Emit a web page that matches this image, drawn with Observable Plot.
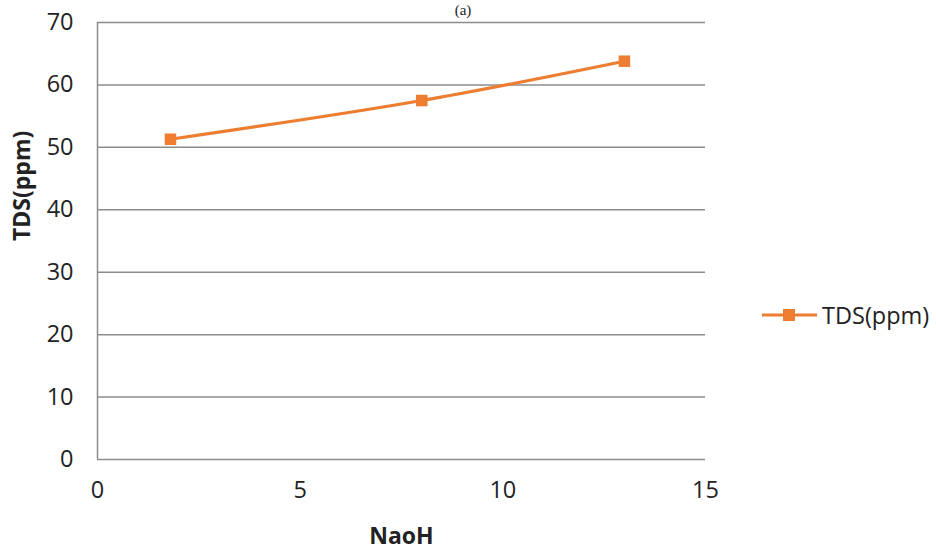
<!DOCTYPE html>
<html>
<head>
<meta charset="utf-8">
<script src="https://cdn.jsdelivr.net/npm/d3@7"></script>
<script src="https://cdn.jsdelivr.net/npm/@observablehq/plot@0.6"></script>
<style>
  html, body { margin: 0; padding: 0; background: #fff; }
  #wrap { position: relative; width: 936px; height: 549px; overflow: hidden; font-family: "Open Sans", sans-serif; }
  #title { position: absolute; left: 463px; top: 1px; transform: translateX(-50%); font-family: "Liberation Serif", serif; font-size: 15px; line-height: 18px; color: #222; }
  #legend { position: absolute; left: 762px; top: 299px; display: flex; align-items: center; font-size: 23.5px; color: #222; }
  #legend svg { margin-right: 5px; }
</style>
</head>
<body>
<div id="wrap">
  <div id="chart"></div>
  <div id="title">(a)</div>
  <div id="legend"></div>
</div>
<script>
// NaOH dose vs. total dissolved solids
const naoh = [1.8, 8, 13];
const tds = [51.3, 57.5, 63.8];
const seriesName = "TDS(ppm)";
const xTicks = [0, 5, 10, 15];
const yTicks = [0, 10, 20, 30, 40, 50, 60, 70];
const lineColor = "#ED7D31";

const rows = naoh.map((x, i) => ({x, y: tds[i]}));

const chart = Plot.plot({
  width: 936,
  height: 549,
  marginLeft: 97,
  marginRight: 231,
  marginTop: 22,
  marginBottom: 90,
  style: {fontFamily: "Open Sans, sans-serif", fontSize: "23.5px", color: "#222", background: "#fff"},
  x: {domain: [0, 15], ticks: xTicks, label: null},
  y: {domain: [0, 70], ticks: yTicks, label: null},
  marks: [
    Plot.ruleY(yTicks.filter(d => d > 0), {stroke: "#8c8c8c", strokeWidth: 1.5}),
    Plot.ruleY([0], {stroke: "#8c8c8c", strokeWidth: 1.5}),
    Plot.ruleX([0], {stroke: "#8c8c8c", strokeWidth: 1.5}),
    Plot.axisX({ticks: xTicks, tickSize: 0, tickPadding: 22, fontSize: 23.5, label: null}),
    Plot.axisY({ticks: yTicks, tickSize: 0, tickPadding: 24, fontSize: 23.5, label: null}),
    Plot.line(rows, {x: "x", y: "y", stroke: lineColor, strokeWidth: 3.2, curve: "catmull-rom"}),
    Plot.dot(rows, {x: "x", y: "y", symbol: "square", r: 6.5, fill: lineColor, stroke: "none"}),
    Plot.text(["NaoH"], {frameAnchor: "bottom", dy: 84, fontWeight: "bold", fontSize: 23, fill: "#222"}),
    Plot.text([seriesName], {frameAnchor: "left", dx: -75, rotate: -90, fontWeight: "bold", fontSize: 23, fill: "#222"})
  ]
});
document.getElementById("chart").appendChild(chart);

// Legend entry: line with square marker, then the series name
const legend = document.getElementById("legend");
legend.innerHTML = `<svg width="55" height="20"><line x1="0" y1="10" x2="55" y2="10" stroke="${lineColor}" stroke-width="3"/><rect x="21" y="4" width="12" height="12" fill="${lineColor}"/></svg><span>${seriesName}</span>`;
</script>
</body>
</html>
